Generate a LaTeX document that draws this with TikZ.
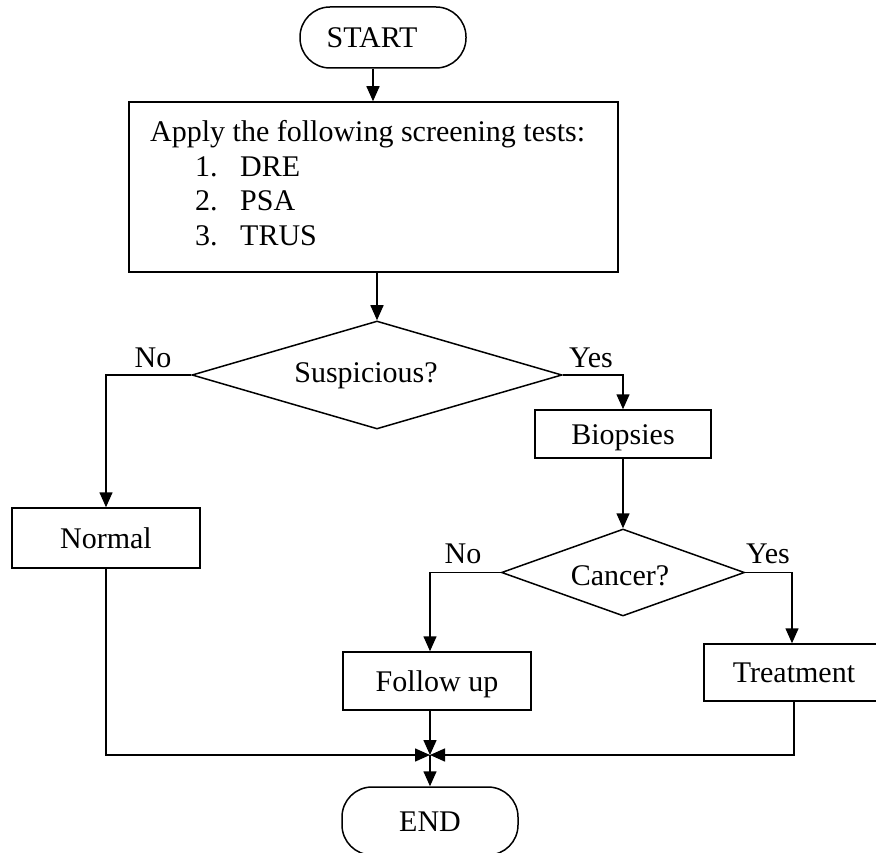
\documentclass[tikz,border=0pt]{standalone}
\usepackage{fontspec}
\setmainfont{Liberation Serif}
\usetikzlibrary{arrows.meta,shapes.geometric}
\begin{document}
\begin{tikzpicture}[x=1pt,y=-1pt,
  every node/.style={font=\fontsize{30}{35}\selectfont, inner sep=0pt},
  box/.style={draw, line width=1.5pt, text height=20pt, text depth=0pt},
  term/.style={box, rounded corners=30pt},
  dec/.style={draw, shape=diamond, line width=1.5pt},
  ln/.style={line width=1.5pt},
  arr/.style={ln, -{Triangle[length=15pt,width=13pt]}},
  lab/.style={anchor=base}
]
\useasboundingbox (0,0) rectangle (876,853);

% terminals
\node[term, minimum width=166pt, minimum height=61pt] (start) at (383,37.5) {START\hspace*{22pt}};
\node[term, minimum width=176pt, minimum height=68pt] (end) at (430,821) {END};

% screening box
\node[box, minimum width=489pt, minimum height=170pt] (tests) at (373.5,187) {};
\node[anchor=base west] (t0) at (150,142) {Apply the following screening tests:};
\node[anchor=base west] (n1) at (195,176.5) {1.};
\node[anchor=base west] (d1) at (240,176.5) {DRE};
\node[anchor=base west] (n2) at (195,211) {2.};
\node[anchor=base west] (d2) at (240,211) {PSA};
\node[anchor=base west] (n3) at (195,245.5) {3.};
\node[anchor=base west] (d3) at (240,245.5) {TRUS};

% decisions
\node[dec, minimum width=370pt, minimum height=108pt] (susp) at (377,375) {};
\node[anchor=base] (susptxt) at (366,382) {Suspicious?};
\node[dec, minimum width=243pt, minimum height=87pt] (cancer) at (623,572.5) {};
\node[anchor=base] (cantxt) at (620,585) {Cancer?};

% process boxes
\node[box, minimum width=188pt, minimum height=60pt] (normal) at (106,538) {Normal};
\node[box, minimum width=176pt, minimum height=48pt] (biop) at (623,434) {Biopsies};
\node[box, minimum width=188pt, minimum height=58pt] (follow) at (437,681) {Follow up};
\node[box, minimum width=180pt, minimum height=57pt] (treat) at (794,672.5) {Treatment};

% labels
\node[lab] (no1) at (153,367) {No};
\node[lab] (yes1) at (591,367) {Yes};
\node[lab] (no2) at (463,563) {No};
\node[lab] (yes2) at (768,563) {Yes};

\coordinate (J) at (430,755);

% connectors
\draw[arr] ([xshift=-10pt]start.south) -- ([xshift=-10pt]start.south |- tests.north);
\draw[arr] (susp.north |- tests.south) -- (susp.north);
\draw[arr] (susp.west) -| (normal.north);
\draw[arr] (susp.east) -| (biop.north);
\draw[arr] (biop.south) -- (cancer.north);
\draw[arr] (cancer.west) -| ([xshift=-7pt]follow.north);
\draw[arr] (cancer.east) -| ([xshift=-2pt]treat.north);
\draw[arr] (normal.south) |- (J);
\draw[arr] ([xshift=-7pt]follow.south) -- (J);
\draw[arr] (treat.south) |- (J);
\draw[arr] (J) -- (end.north);
\end{tikzpicture}
\end{document}
